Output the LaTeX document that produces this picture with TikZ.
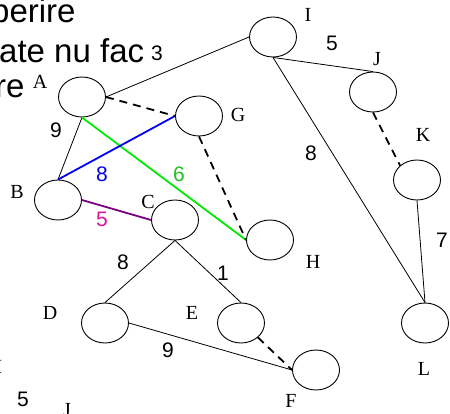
\documentclass[tikz,border=0pt]{standalone}
\usepackage{fontspec}
\setmainfont{Liberation Serif}
\newfontfamily\numfont{Liberation Sans}
\usepackage{tikz}
\usetikzlibrary{shapes.geometric}
\definecolor{edgegreen}{RGB}{0,235,0}
\definecolor{labelgreen}{RGB}{30,190,30}
\definecolor{edgeblue}{RGB}{0,0,240}
\definecolor{edgepurple}{RGB}{120,0,130}
\definecolor{labelpink}{RGB}{220,20,150}
\tikzstyle{vertex} = [ellipse, minimum width=47pt, minimum height=40pt, inner sep=0pt, draw=black, line width=0.9pt]
\tikzstyle{vname} = [font=\fontsize{20}{22}\selectfont, inner sep=0pt]
\tikzstyle{weight} = [font=\numfont\fontsize{21}{23}\selectfont, inner sep=0pt]
\tikzstyle{bigtext} = [font=\numfont\fontsize{33}{37}\selectfont, inner sep=0pt, anchor=base west]
\tikzstyle{edge} = [line width=0.8pt]
\tikzstyle{tree} = [line width=1.8pt]
\tikzstyle{cut} = [line width=1.8pt, dash pattern=on 8pt off 6pt]

\begin{document}
\begin{tikzpicture} [x=1pt, y=-1pt]
        \useasboundingbox (0,0) rectangle (450,413);
        % slide text running off the left edge
        \node (t1) [bigtext] at (-9,22) {perire};
        \node (t2) [bigtext] at (-1,62) {ate nu fac};
        \node (t3) [bigtext] at (-5,97) {re};
        \node (w3) [weight] at (157,53) {3};

        % vertices
        \node (A) [vertex] at (82,97) {};
        \node (G) [vertex] at (199,116) {};
        \node (B) [vertex] at (58,200) {};
        \node (C) [vertex] at (175,220) {};
        \node (H) [vertex] at (270,240) {};
        \node (D) [vertex] at (105,323) {};
        \node (E) [vertex] at (241,323) {};
        \node (F) [vertex] at (316,370) {};
        \node (I) [vertex] at (273,37) {};
        \node (J) [vertex] at (373,92) {};
        \node (K) [vertex] at (417,180) {};
        \node (L) [vertex] at (425,323) {};

        % vertex names
        \node (nA) [vname] at (40,82) {A};
        \node (nG) [vname] at (238,115) {G};
        \node (nB) [vname] at (17,192) {B};
        \node (nC) [vname] at (148,202) {C};
        \node (nH) [vname] at (313,262) {H};
        \node (nD) [vname] at (50,313) {D};
        \node (nE) [vname] at (192,313) {E};
        \node (nF) [vname] at (291,401) {F};
        \node (nI) [vname] at (308,15) {I};
        \node (nJ) [vname] at (377,59) {J};
        \node (nK) [vname] at (423,135) {K};
        \node (nL) [vname] at (424,369) {L};

        % edges
        \draw[edge] (A.east) -- (I.west);
        \draw[edge] (A.south) -- (B.north);
        \draw[edge] (C.south) -- (D.north);
        \draw[edge] (C.south) -- (E.north);
        \draw[edge] (D.east) -- (F.west);
        \draw[edge] (I.south) -- (J.north);
        \draw[edge] (I.south) -- (L.north);
        \draw[edge] (K.south) -- (L.north);
        \draw[tree, edgegreen] (A.south) -- (H.west);
        \draw[tree, edgeblue] (B.north) -- (G.west);
        \draw[tree, edgepurple] (B.east) -- (C.west);
        \draw[cut] (A.east) -- (G.west);
        \draw[cut] (G.south) -- (H.west);
        \draw[cut] (E.south east) -- (F.west);
        \draw[cut] (J.south) -- (K.north west);

        % weights
        \node (wAB) [weight] at (56,130) {9};
        \node (wBG) [weight, edgeblue] at (102,174) {8};
        \node (wAH) [weight, labelgreen] at (179,174) {6};
        \node (wBC) [weight, labelpink] at (102,219) {5};
        \node (wCD) [weight] at (123,262) {8};
        \node (wCE) [weight] at (223,273) {1};
        \node (wDF) [weight] at (168,350) {9};
        \node (wIL) [weight] at (311,153) {8};
        \node (wIJ) [weight] at (332,43) {5};
        \node (wKL) [weight] at (442,240) {7};

        % next graph, cut off at the bottom
        \node (nI2) [vname] at (-1,367) {I};
        \node (wIJ2) [weight] at (23,399) {5};
        \node (nJ2) [vname] at (67,410) {J};
\end{tikzpicture}
\end{document}
